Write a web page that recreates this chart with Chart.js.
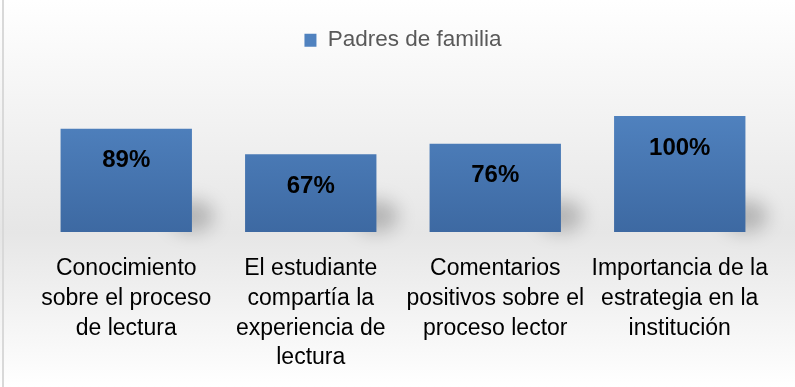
<!DOCTYPE html>
<html>
<head>
<meta charset="utf-8">
<script src="https://cdn.jsdelivr.net/npm/chart.js@4"></script>
<style>
  html, body { margin: 0; padding: 0; background: #fff; }
  #wrap { width: 795px; height: 387px; position: relative; }
</style>
</head>
<body>
<div id="wrap"><canvas id="Chart" width="795" height="387"></canvas></div>
<script>
// categorias y valores (porcentaje)
const categorias = [
  ['Conocimiento', 'sobre el proceso', 'de lectura'],
  ['El estudiante', 'compartía la', 'experiencia de', 'lectura'],
  ['Comentarios', 'positivos sobre el', 'proceso lector'],
  ['Importancia de la', 'estrategia en la', 'institución']
];
const padres = [89, 67, 76, 100];
const serieNombre = 'Padres de familia';

// fondo degradado + borde izquierdo
const fondo = {
  id: 'fondo',
  beforeDraw(c) {
    const ctx = c.ctx;
    const g = ctx.createLinearGradient(0, 0, 0, c.height);
    g.addColorStop(0, '#ffffff');
    g.addColorStop(0.6, '#e6e6e6');
    g.addColorStop(1, '#ffffff');
    ctx.save();
    ctx.fillStyle = g;
    ctx.fillRect(0, 0, c.width, c.height);
    ctx.fillStyle = '#d9d9d9';
    ctx.fillRect(2, 0, 2, c.height);
    ctx.restore();
  }
};

// sombra suave abajo a la derecha de cada barra
const sombra = {
  id: 'sombra',
  beforeDatasetsDraw(c) {
    const ctx = c.ctx;
    const meta = c.getDatasetMeta(0);
    ctx.save();
    ctx.filter = 'blur(9px)';
    ctx.fillStyle = 'rgba(0,0,0,0.22)';
    meta.data.forEach(b => {
      const x = b.x + b.width / 2;
      ctx.beginPath();
      ctx.ellipse(x, b.base - 16, 22, 16, 0, 0, Math.PI * 2);
      ctx.fill();
    });
    ctx.restore();
  }
};

// etiquetas de valor dentro de la barra
const etiquetas = {
  id: 'etiquetas',
  afterDatasetsDraw(c) {
    const ctx = c.ctx;
    const meta = c.getDatasetMeta(0);
    ctx.save();
    ctx.font = 'bold 24px "Liberation Sans", Arial, sans-serif';
    ctx.fillStyle = '#000';
    ctx.textAlign = 'center';
    ctx.textBaseline = 'middle';
    meta.data.forEach((b, i) => {
      ctx.fillText(padres[i] + '%', b.x, b.y + 32);
    });
    ctx.restore();
  }
};

const chart = document.getElementById('Chart').getContext('2d');
const barChart = new Chart(chart, {
  type: 'bar',
  data: {
    labels: categorias,
    datasets: [{
      label: serieNombre,
      data: padres,
      backgroundColor: (ctx) => {
        const a = ctx.chart.chartArea;
        if (!a) return '#4a7ab5';
        const g = ctx.chart.ctx.createLinearGradient(0, a.bottom, 0, a.bottom - 120);
        g.addColorStop(0, '#3d69a2');
        g.addColorStop(1, '#5082bf');
        return g;
      },
      borderWidth: 0,
      categoryPercentage: 1,
      barPercentage: 0.712
    }]
  },
  options: {
    responsive: false,
    animation: false,
    layout: { padding: { left: 34, right: 23, top: 19, bottom: 0 } },
    plugins: {
      legend: {
        position: 'top',
        labels: {
          boxWidth: 12,
          boxHeight: 13,
          color: '#595959',
          font: { family: '"Liberation Sans", Arial, sans-serif', size: 22.5 }
        }
      },
      tooltip: { enabled: false }
    },
    scales: {
      x: {
        grid: { display: false, drawTicks: false },
        border: { display: false },
        afterFit(scale) { scale.height = 155; },
        ticks: {
          padding: 22,
          color: '#000',
          maxRotation: 0,
          autoSkip: false,
          font: { family: '"Liberation Sans", Arial, sans-serif', size: 23, lineHeight: 1.29 }
        }
      },
      y: {
        display: false,
        beginAtZero: true,
        min: 0,
        max: 147
      }
    }
  },
  plugins: [fondo, sombra, etiquetas]
});
</script>
</body>
</html>
